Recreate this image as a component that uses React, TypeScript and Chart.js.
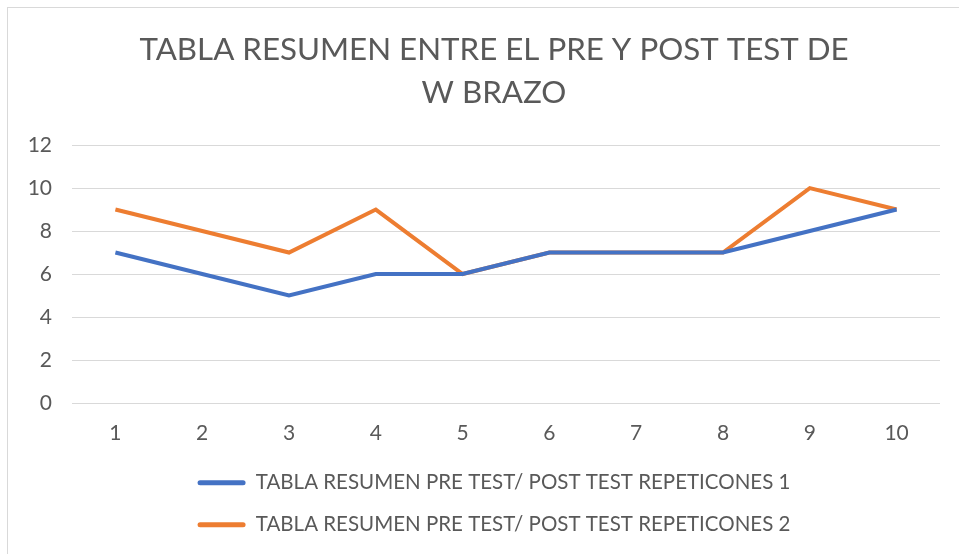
import React, { useEffect, useRef } from "react";
import { Chart, registerables } from "chart.js";

Chart.register(...registerables);

const titleLines = ["TABLA RESUMEN ENTRE EL PRE Y POST TEST DE", "W BRAZO"];
const categories = ["1", "2", "3", "4", "5", "6", "7", "8", "9", "10"];
const series1Label = "TABLA RESUMEN PRE TEST/ POST TEST REPETICONES 1";
const series1 = [7, 6, 5, 6, 6, 7, 7, 7, 8, 9];
const series2Label = "TABLA RESUMEN PRE TEST/ POST TEST REPETICONES 2";
const series2 = [9, 8, 7, 9, 6, 7, 7, 7, 10, 9];

const FONT = "Lato, 'Open Sans', sans-serif";
const TEXT = "#595959";

export default function App() {
  const ref = useRef<HTMLCanvasElement | null>(null);

  useEffect(() => {
    if (!ref.current) return;
    const chart = new Chart(ref.current, {
      type: "line",
      data: {
        labels: categories,
        datasets: [
          {
            label: series1Label,
            data: series1,
            borderColor: "#4472C4",
            backgroundColor: "#4472C4",
            borderWidth: 4,
            pointRadius: 0,
            tension: 0,
          },
          {
            label: series2Label,
            data: series2,
            borderColor: "#ED7D31",
            backgroundColor: "#ED7D31",
            borderWidth: 4,
            pointRadius: 0,
            tension: 0,
          },
        ],
      },
      options: {
        responsive: false,
        animation: false,
        layout: { padding: { left: 20, right: 12, top: 0, bottom: 9 } },
        plugins: {
          title: {
            display: true,
            text: titleLines,
            color: TEXT,
            font: { family: FONT, size: 31.3, weight: "normal", lineHeight: 1.375 },
            padding: { top: 28.5, bottom: 30.5 },
          },
          legend: {
            display: true,
            position: "bottom",
            labels: {
              color: TEXT,
              font: { family: FONT, size: 20.5 },
              boxWidth: 48,
              boxHeight: 5,
              padding: 21.5,
              generateLabels: (c: any) =>
                c.data.datasets.map((d: any, i: number) => ({
                  text: d.label,
                  fillStyle: d.borderColor,
                  strokeStyle: d.borderColor,
                  lineWidth: 0,
                  borderRadius: 2.5,
                  hidden: false,
                  datasetIndex: i,
                  fontColor: TEXT,
                })),
            },
          },
          tooltip: { enabled: false },
        },
        scales: {
          x: {
            offset: true,
            grid: { display: false, drawTicks: false },
            border: { display: false },
            ticks: { color: TEXT, font: { family: FONT, size: 21 }, padding: 18, maxRotation: 0 },
            afterFit: (s: any) => {
              s.height = 48;
            },
          },
          y: {
            min: 0,
            max: 12,
            grid: { color: "#d9d9d9", lineWidth: 1, drawTicks: false },
            border: { display: false },
            ticks: { stepSize: 2, color: TEXT, font: { family: FONT, size: 21 }, padding: 20 },
            afterFit: (s: any) => {
              s.width = 52;
            },
          },
          yRight: {
            type: "linear",
            position: "right",
            display: true,
            grid: { display: false, drawTicks: false },
            border: { display: false },
            ticks: { display: false },
            afterFit: (s: any) => {
              s.width = 28;
            },
          },
        },
      },
    });
    return () => chart.destroy();
  }, []);

  return (
    <div style={{ position: "fixed", left: 0, top: 0, width: 959, height: 554, background: "#fff", overflow: "hidden" }}>
      <div
        style={{
          position: "absolute",
          left: 7,
          top: 7,
          width: 1000,
          height: 600,
          border: "1px solid #d9d9d9",
          boxSizing: "border-box",
        }}
      />
      <canvas ref={ref} width={980} height={554} style={{ position: "absolute", left: 0, top: 0, width: 980, height: 554 }} />
    </div>
  );
}
